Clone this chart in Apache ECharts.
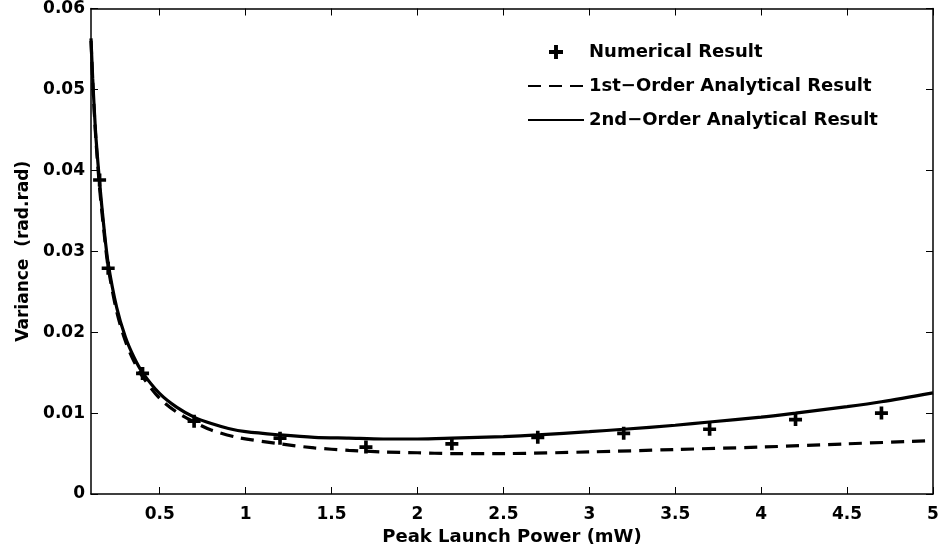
<!DOCTYPE html>
<html>
<head>
<meta charset="utf-8">
<script src="https://cdn.jsdelivr.net/npm/echarts@6/dist/echarts.min.js"></script>
<style>
html,body{margin:0;padding:0;background:#fff;}
#c{width:944px;height:554px;}
</style>
</head>
<body>
<div id="c"></div>
<script>
// ---- data ----
var seriesNames = ['Numerical Result', '1st\u2212Order Analytical Result', '2nd\u2212Order Analytical Result'];
var numericalX = [0.15, 0.2, 0.4, 0.7, 1.2, 1.7, 2.2, 2.7, 3.2, 3.7, 4.2, 4.7];
var numericalY = [0.0388, 0.0279, 0.0149, 0.0090, 0.0069, 0.0058, 0.0062, 0.0070, 0.0075, 0.0080, 0.0092, 0.0100];
var firstOrderX = [0.1, 0.11, 0.12, 0.13, 0.15, 0.175, 0.2, 0.25, 0.3, 0.35, 0.4, 0.5, 0.6, 0.7, 0.8, 0.95, 1.2, 1.4, 1.6, 1.8, 2.0, 2.2, 2.5, 3.0, 3.5, 4.0, 4.5, 5.0];
var firstOrderY = [0.0560, 0.0510, 0.0468, 0.0433, 0.0378, 0.0325, 0.0280, 0.0225, 0.0189, 0.0164, 0.0145, 0.0118, 0.0101, 0.0089, 0.0079, 0.0070, 0.0062, 0.0057, 0.0054, 0.0052, 0.0051, 0.0050, 0.0050, 0.0052, 0.0055, 0.0058, 0.0062, 0.0066];
var secondOrderX = [0.1, 0.11, 0.12, 0.13, 0.15, 0.175, 0.2, 0.25, 0.3, 0.35, 0.4, 0.5, 0.6, 0.7, 0.8, 0.9, 1.0, 1.2, 1.4, 1.6, 1.8, 2.0, 2.2, 2.5, 2.7, 3.0, 3.2, 3.5, 3.7, 4.0, 4.2, 4.5, 4.7, 5.0];
var secondOrderY = [0.0563, 0.0513, 0.0472, 0.0437, 0.0385, 0.0330, 0.0285, 0.0230, 0.0194, 0.0169, 0.0150, 0.0124, 0.0107, 0.0095, 0.0087, 0.0081, 0.0077, 0.0073, 0.0070, 0.0069, 0.0068, 0.0068, 0.0069, 0.0071, 0.0073, 0.0077, 0.0080, 0.0085, 0.0089, 0.0095, 0.0100, 0.0108, 0.0114, 0.0125];
var xTicks = [0.5, 1, 1.5, 2, 2.5, 3, 3.5, 4, 4.5, 5];
var xTickLabels = ['0.5', '1', '1.5', '2', '2.5', '3', '3.5', '4', '4.5', '5'];
var yTicks = [0, 0.01, 0.02, 0.03, 0.04, 0.05, 0.06];
var yTickLabels = ['0', '0.01', '0.02', '0.03', '0.04', '0.05', '0.06'];
var xTitle = 'Peak Launch Power (mW)';
var yTitle = 'Variance  (rad.rad)';

function zip(a, b) { return a.map(function (v, i) { return [v, b[i]]; }); }

var FONT = 'DejaVu Sans';
var plusPath = 'path://M3.6,0H6.4V3.6H10V6.4H6.4V10H3.6V6.4H0V3.6H3.6Z';

var chart = echarts.init(document.getElementById('c'), null, { renderer: 'canvas' });

var axisCommon = {
  type: 'value',
  axisLine: { show: true, onZero: false, lineStyle: { color: '#000', width: 1.5 } },
  axisTick: { show: true, inside: true, length: 7, lineStyle: { color: '#000', width: 1 } },
  splitLine: { show: false }
};

var hiddenSymbol = { color: 'rgba(0,0,0,0)', borderColor: 'rgba(0,0,0,0)', borderWidth: 0, opacity: 0 };

var option = {
  animation: false,
  backgroundColor: '#fff',
  grid: { left: 91, right: 11, top: 8, bottom: 60, containLabel: false },
  legend: {
    orient: 'vertical',
    left: 522,
    top: 38,
    itemWidth: 56,
    itemHeight: 14,
    itemGap: 16,
    textStyle: { fontFamily: FONT, fontWeight: 'bold', fontSize: 18, color: '#000' },
    data: [
      { name: seriesNames[0], icon: plusPath, itemStyle: { color: '#000', opacity: 1 } },
      { name: seriesNames[1], itemStyle: hiddenSymbol },
      { name: seriesNames[2], itemStyle: hiddenSymbol }
    ]
  },
  xAxis: [
    Object.assign({}, axisCommon, {
      position: 'bottom',
      min: 0.1, max: 5,
      name: xTitle,
      nameLocation: 'middle',
      nameGap: 27,
      nameTextStyle: { fontFamily: FONT, fontWeight: 'bold', fontSize: 18, color: '#000' },
      axisTick: Object.assign({}, axisCommon.axisTick, { customValues: xTicks }),
      axisLabel: {
        customValues: xTicks,
        margin: 12,
        fontFamily: FONT, fontWeight: 'bold', fontSize: 17, color: '#000',
        formatter: function (v) { var i = xTicks.indexOf(+(+v).toFixed(2)); return i >= 0 ? xTickLabels[i] : ''; }
      }
    }),
    Object.assign({}, axisCommon, {
      position: 'top',
      min: 0.1, max: 5,
      axisTick: Object.assign({}, axisCommon.axisTick, { customValues: xTicks }),
      axisLabel: { show: false, customValues: xTicks }
    })
  ],
  yAxis: [
    Object.assign({}, axisCommon, {
      position: 'left',
      min: 0, max: 0.06, interval: 0.01,
      name: yTitle,
      nameLocation: 'middle',
      nameGap: 58,
      nameTextStyle: { fontFamily: FONT, fontWeight: 'bold', fontSize: 17, color: '#000' },
      axisLabel: {
        margin: 6,
        fontFamily: FONT, fontWeight: 'bold', fontSize: 17, color: '#000',
        formatter: function (v) { var i = yTicks.indexOf(+(+v).toFixed(3)); return i >= 0 ? yTickLabels[i] : ''; }
      }
    }),
    Object.assign({}, axisCommon, {
      position: 'right',
      min: 0, max: 0.06, interval: 0.01,
      axisLabel: { show: false }
    })
  ],
  series: [
    {
      name: seriesNames[0],
      type: 'scatter',
      xAxisIndex: 0, yAxisIndex: 0,
      symbol: plusPath,
      symbolSize: 13,
      itemStyle: { color: '#000', opacity: 1 },
      data: zip(numericalX, numericalY),
      z: 5
    },
    {
      name: seriesNames[1],
      type: 'line',
      xAxisIndex: 0, yAxisIndex: 0,
      symbol: 'none',
      smooth: 0.3,
      lineStyle: { color: '#000', width: 3.2, type: [13, 8] },
      itemStyle: { color: '#000' },
      data: zip(firstOrderX, firstOrderY)
    },
    {
      name: seriesNames[2],
      type: 'line',
      xAxisIndex: 0, yAxisIndex: 0,
      symbol: 'none',
      smooth: 0.3,
      lineStyle: { color: '#000', width: 3.2, type: 'solid' },
      itemStyle: { color: '#000' },
      data: zip(secondOrderX, secondOrderY)
    }
  ]
};
chart.setOption(option);
</script>
</body>
</html>
